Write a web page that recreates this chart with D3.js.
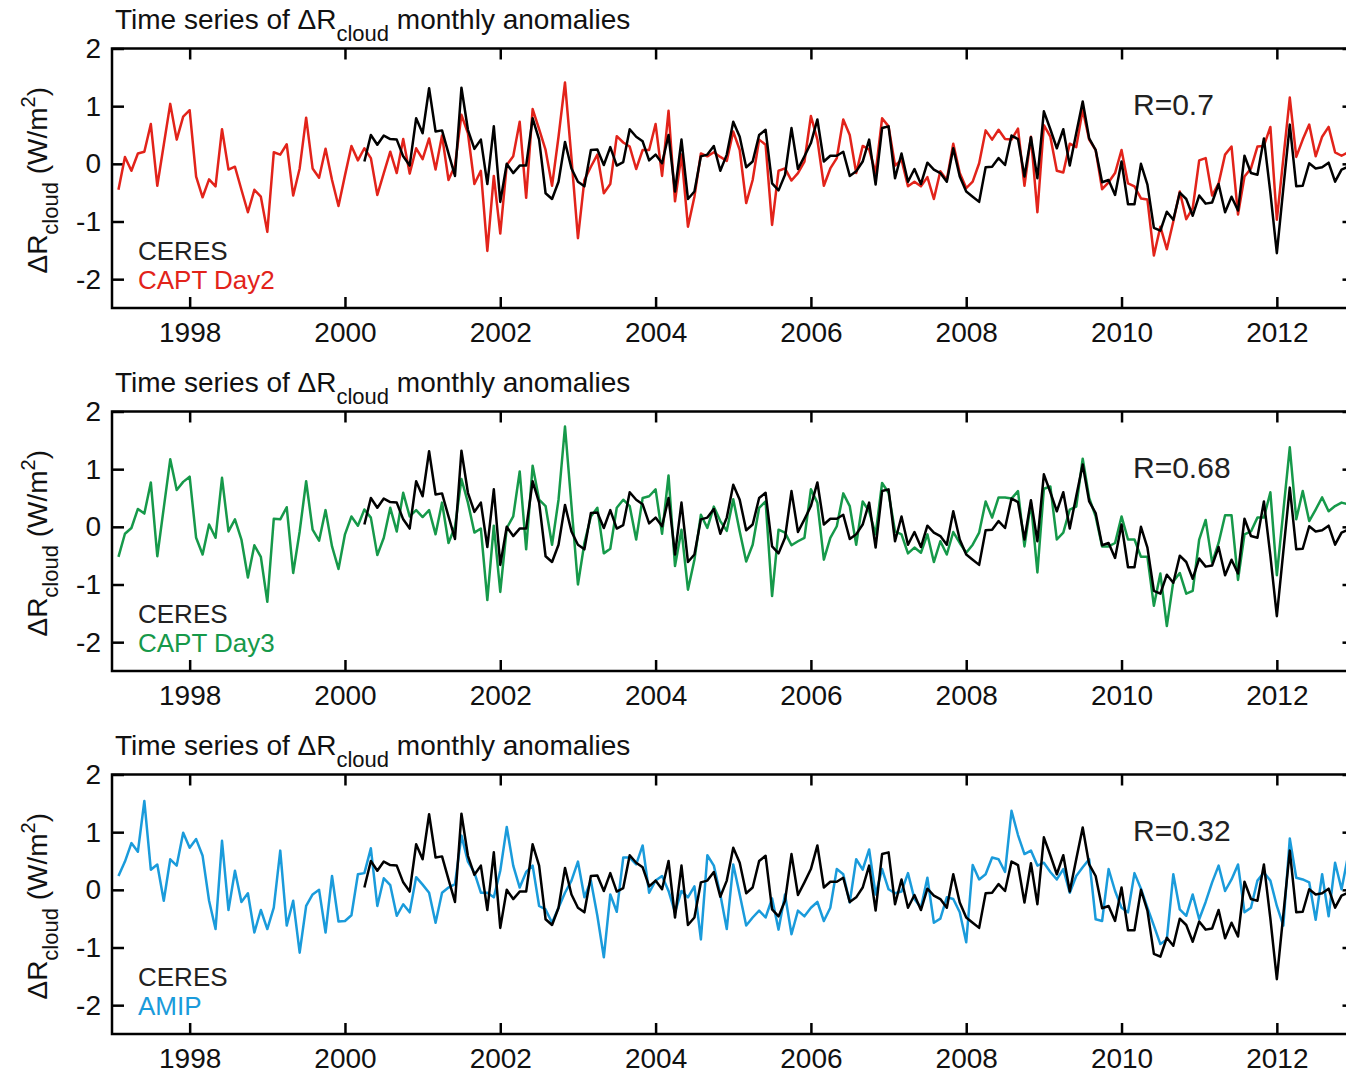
<!DOCTYPE html>
<html>
<head>
<meta charset="utf-8">
<script src="https://cdn.jsdelivr.net/npm/d3@7"></script>
<style>
  body { margin: 0; background: #fff; }
  svg { display: block; }
  text { font-family: "Liberation Sans", Arial, Helvetica, sans-serif; }
</style>
</head>
<body>
<svg id="chart" width="1346" height="1073"></svg>
<script>
// Monthly cloud radiative anomalies (W/m2); the first value sits at 1997 + 1/12
const seriesStart = 1997 + 1 / 12;
const ceresFirstIndex = 38; // CERES record begins in spring 2000

const ceres = [
  0.04, 0.5, 0.33, 0.49, 0.43, 0.42, 0.13, -0.03, 0.79, 0.53,
  1.31, 0.56, 0.58, 0.18, -0.21, 1.32, 0.59, 0.26, 0.42, -0.35, 0.65, -0.66,
  0, -0.16, -0.03, -0.03, 0.79, 0.42, -0.51, -0.61, -0.31, 0.38, -0.08, -0.31,
  -0.39, 0.24, 0.25, -0.02, 0.29, -0.03, 0.03, 0.6, 0.47, 0.39, 0.06, 0.16,
  0.01, 0.5, -0.48, 0.42, -0.61, -0.48, 0.13, 0.16, 0.31, -0.12, 0.16, 0.73,
  0.47, -0.06, 0.04, 0.5, 0.59, -0.34, -0.46, -0.19, 0.62, -0.09, 0.13, 0.36,
  0.77, 0.04, 0.14, 0.14, 0.21, -0.21, -0.13, 0.04, 0.42, -0.36, 0.62, 0.65,
  -0.25, 0.18, -0.31, -0.09, -0.35, 0.02, -0.1, -0.16, -0.31, 0.27, -0.22, -0.48,
  -0.57, -0.66, -0.06, -0.05, 0.1, -0.02, 0.49, 0.43, -0.22, 0.46, -0.25, 0.91,
  0.6, 0.27, 0.6, -0.03, 0.53, 1.08, 0.44, 0.24, -0.32, -0.28, -0.54, 0.04,
  -0.7, -0.7, 0, -0.36, -1.11, -1.16, -0.83, -0.97, -0.5, -0.61, -0.9, -0.55,
  -0.69, -0.67, -0.35, -0.84, -0.57, -0.81, 0.14, -0.16, -0.19, 0.44, -0.5, -1.55,
  -0.43, 0.68, -0.39, -0.38, 0.01, -0.08, -0.06, 0.02, -0.31, -0.1, -0.05, -0.15
];

const captDay2 = [
  -0.45, 0.12, -0.12, 0.18, 0.21, 0.69, -0.38, 0.33, 1.04, 0.42, 0.82, 0.93,
  -0.22, -0.58, -0.27, -0.39, 0.6, -0.1, -0.05, -0.45, -0.84, -0.45, -0.57, -1.18,
  0.2, 0.16, 0.34, -0.55, -0.08, 0.8, -0.08, -0.24, 0.26, -0.28, -0.73, -0.2,
  0.31, 0.06, 0.27, 0.1, -0.54, -0.16, 0.21, -0.16, 0.43, -0.17, 0.27, 0.08,
  0.44, -0.1, 0.49, -0.28, -0.03, 0.85, 0.53, -0.35, -0.12, -1.51, -0.21, -1.21,
  -0.02, 0.13, 0.73, -0.59, 0.95, 0.6, 0.24, -0.38, 0.47, 1.41, 0.1, -1.29,
  -0.28, -0.05, 0.16, -0.51, -0.35, 0.48, 0.37, 0.3, -0.09, 0.24, 0.24, 0.69,
  -0.21, 0.92, -0.65, 0.16, -1.09, -0.57, 0.18, 0.13, 0.2, 0.12, 0.05, 0.56,
  0.24, -0.68, -0.28, 0.42, 0.33, -1.06, -0.12, -0.08, -0.29, -0.16, 0.04, 0.83,
  0.42, -0.38, -0.08, 0.1, 0.77, 0.5, -0.16, 0.31, 0.25, -0.16, 0.79, 0.65,
  -0.03, 0.07, -0.39, -0.31, -0.39, -0.23, -0.61, -0.13, -0.28, 0.35, -0.16, -0.42,
  -0.31, 0.01, 0.58, 0.42, 0.59, 0.43, 0.42, 0.61, -0.38, 0.47, -0.84, 0.67,
  0.47, -0.12, -0.15, 0.35, 0.29, 0.94, 0.42, 0.24, -0.44, -0.32, -0.16, 0.24,
  -0.34, -0.39, -0.6, -0.62, -1.59, -1.09, -1.48, -1.0, -0.48, -0.96, -0.77, 0.06,
  0.1, -0.55, -0.34, 0.16, 0.3, -0.88, -0.22, -0.08, 0.3, 0.31, 0.64, -0.97,
  0.09, 1.15, 0.12, 0.42, 0.68, 0.13, 0.47, 0.64, 0.2, 0.14, 0.2, 0.25
];

const captDay3 = [
  -0.52, -0.12, -0.02, 0.31, 0.23, 0.77, -0.51, 0.33, 1.17, 0.64, 0.78, 0.87,
  -0.19, -0.48, 0.04, -0.19, 0.85, -0.08, 0.13, -0.22, -0.88, -0.32, -0.52, -1.3,
  0.14, 0.13, 0.34, -0.8, -0.08, 0.79, -0.05, -0.24, 0.29, -0.34, -0.73, -0.13,
  0.18, 0.02, 0.3, 0.16, -0.49, -0.19, 0.33, -0.08, 0.59, 0.18, 0.29, 0.17,
  0.29, -0.13, 0.42, -0.28, 0.0, 0.83, 0.42, -0.1, -0.03, -1.27, 0.02, -1.13,
  -0.02, 0.18, 0.96, -0.39, 1.06, 0.47, 0.36, -0.31, 0.47, 1.74, 0.37, -1.0,
  -0.28, 0.18, 0.33, -0.46, -0.38, 0.33, 0.47, 0.36, -0.22, 0.5, 0.53, 0.65,
  -0.12, 0.89, -0.68, -0.05, -1.09, -0.57, 0.21, -0.02, 0.35, 0.1, -0.07, 0.48,
  -0.08, -0.6, -0.31, 0.33, 0.44, -1.2, -0.05, -0.1, -0.32, -0.25, -0.19, 0.65,
  0.42, -0.57, -0.19, 0.01, 0.58, 0.36, -0.31, 0.44, 0.27, -0.13, 0.76, 0.59,
  -0.08, -0.13, -0.46, -0.36, -0.45, -0.13, -0.61, -0.25, -0.48, -0.09, -0.28, -0.45,
  -0.31, -0.1, 0.44, 0.16, 0.51, 0.51, 0.49, 0.62, -0.34, 0.42, -0.79, 0.66,
  0.7, -0.22, -0.1, 0.3, 0.35, 1.18, 0.5, 0.18, -0.34, -0.34, -0.28, 0.18,
  -0.22, -0.22, -0.52, -0.52, -1.37, -0.81, -1.72, -0.95, -0.8, -1.16, -1.11, -0.22,
  0.12, -0.62, -0.28, 0.2, 0.2, -0.92, -0.13, -0.08, 0.16, 0.16, 0.6, -0.84,
  0.27, 1.38, 0.13, 0.62, 0.1, 0.3, 0.51, 0.27, 0.36, 0.42, 0.39, 0.45
];

const amip = [
  0.24, 0.49, 0.81, 0.66, 1.54, 0.35, 0.44, -0.19, 0.53, 0.42, 0.99, 0.73,
  0.88, 0.59, -0.19, -0.68, 0.85, -0.35, 0.33, -0.21, -0.06, -0.74, -0.35, -0.68,
  -0.31, 0.68, -0.62, -0.19, -1.09, -0.28, -0.08, 0, -0.74, 0.24, -0.55, -0.54,
  -0.44, 0.27, 0.29, 0.72, -0.28, 0.2, 0.08, -0.45, -0.25, -0.39, 0.22, 0.09,
  -0.05, -0.57, -0.05, 0.04, 0.1, 0.94, 0.49, 0.3, -0.05, -0.05, -0.13, 0.33,
  1.09, 0.42, 0.04, 0.31, 0.42, -0.28, -0.34, -0.57, -0.31, -0.05, 0.16, 0.49,
  -0.13, 0.16, -0.45, -1.17, -0.08, -0.38, 0.56, 0.56, 0.44, 0.77, -0.05, 0.16,
  0.24, -0.02, -0.39, -0.02, -0.13, 0.06, -0.86, 0.6, 0.42, -0.08, -0.68, 0.44,
  -0.08, -0.62, -0.48, -0.36, -0.48, -0.15, -0.69, -0.08, -0.77, -0.36, -0.46, -0.31,
  -0.21, -0.54, -0.31, 0.36, 0.27, -0.22, 0.53, 0.35, 0.7, -0.08, 0.36, 0.01,
  -0.06, -0.03, 0.29, -0.16, -0.31, 0.21, -0.57, -0.5, -0.13, -0.16, -0.39, -0.91,
  0.43, 0.18, 0.27, 0.56, 0.53, 0.31, 1.37, 0.95, 0.62, 0.68, 0.42, 0.47,
  0.31, 0.18, 0.36, -0.05, 0.24, 0.39, 0.53, -0.51, -0.54, 0.36, -0.02, -0.31,
  -0.39, 0.29, 0.02, -0.31, -0.62, -0.94, -0.86, 0.27, -0.34, -0.45, -0.08, -0.51,
  -0.21, 0.13, 0.42, -0.02, 0.18, 0.44, -0.39, -0.31, 0.16, 0.3, 0.16, -0.28,
  -0.62, 0.89, 0.21, 0.18, 0.13, -0.52, 0.27, -0.46, 0.47, 0.01, 0.59, 0.8
];

const modelSeries = [captDay2, captDay3, amip];
const modelNames = ["CAPT Day2", "CAPT Day3", "AMIP"];
const modelColors = ["#e2231a", "#16994a", "#1a9bdb"];
const correlations = ["R=0.7", "R=0.68", "R=0.32"];
const xTicks = [1998, 2000, 2002, 2004, 2006, 2008, 2010, 2012];
const yTicks = [2, 1, 0, -1, -2];

const svg = d3.select("#chart");
const fontSize = 28;
const subSize = 22;
const panelStep = 363;
const plot = { left: 112, right: 1354.5, top: 48.5, bottom: 308 };

const x = d3.scaleLinear().domain([1997, 2013]).range([plot.left, plot.right]);
const y = d3.scaleLinear().domain([-2.5, 2]).range([plot.bottom, plot.top]);

const toPoints = (arr, offset) => arr.map((v, i) => ({ t: seriesStart + (offset + i) / 12, v }));
const line = d3.line().x(d => x(d.t)).y(d => y(d.v));

modelSeries.forEach((series, k) => {
  const g = svg.append("g").attr("transform", `translate(0,${k * panelStep})`);

  // panel title with subscript
  const title = g.append("text")
    .attr("x", 115).attr("y", 29)
    .attr("font-size", fontSize).attr("fill", "#111");
  title.append("tspan").text("Time series of \u0394R");
  title.append("tspan").attr("dy", 12).attr("font-size", subSize).text("cloud");
  title.append("tspan").attr("dy", -12).text(" monthly anomalies");

  // axes with inward ticks on all four sides
  const axB = g.append("g").attr("transform", `translate(0,${plot.bottom})`)
    .call(d3.axisBottom(x).tickValues(xTicks).tickFormat(d => String(d))
      .tickSize(-11).tickPadding(14));
  const axT = g.append("g").attr("transform", `translate(0,${plot.top})`)
    .call(d3.axisTop(x).tickValues(xTicks).tickFormat("").tickSize(-11));
  const axL = g.append("g").attr("transform", `translate(${plot.left},0)`)
    .call(d3.axisLeft(y).tickValues(yTicks).tickFormat(d => String(d))
      .tickSize(-12).tickPadding(11));
  const axR = g.append("g").attr("transform", `translate(${plot.right},0)`)
    .call(d3.axisRight(y).tickValues(yTicks).tickFormat("").tickSize(-12));

  [axB, axT, axL, axR].forEach(a => {
    a.select(".domain").remove();
    a.selectAll(".tick line").attr("stroke", "#000").attr("stroke-width", 2.5);
    a.selectAll(".tick text").attr("font-size", fontSize)
      .attr("font-family", "Liberation Sans, Arial, sans-serif").attr("fill", "#111");
  });

  // data lines: model first, CERES on top
  g.append("path").datum(toPoints(series, 0))
    .attr("d", line).attr("fill", "none")
    .attr("stroke", modelColors[k]).attr("stroke-width", 2.5)
    .attr("stroke-linejoin", "round");
  g.append("path").datum(toPoints(ceres, ceresFirstIndex))
    .attr("d", line).attr("fill", "none")
    .attr("stroke", "#000").attr("stroke-width", 2.5)
    .attr("stroke-linejoin", "round");

  // frame
  g.append("rect")
    .attr("x", plot.left).attr("y", plot.top)
    .attr("width", plot.right - plot.left).attr("height", plot.bottom - plot.top)
    .attr("fill", "none").attr("stroke", "#000").attr("stroke-width", 2.5);

  // y-axis title
  const yl = g.append("text")
    .attr("transform", `translate(47,${(plot.top + plot.bottom) / 2 + 2}) rotate(-90)`)
    .attr("text-anchor", "middle").attr("font-size", fontSize).attr("fill", "#111");
  yl.append("tspan").text("\u0394R");
  yl.append("tspan").attr("dy", 11).attr("font-size", subSize).text("cloud");
  yl.append("tspan").attr("dy", -11).text(" (W/m");
  yl.append("tspan").attr("dy", -12).attr("font-size", 20).text("2");
  yl.append("tspan").attr("dy", 12).text(")");

  // legend
  g.append("text").attr("x", 138).attr("y", 259.5)
    .attr("font-size", 26).attr("fill", "#222").text("CERES");
  g.append("text").attr("x", 138).attr("y", 289)
    .attr("font-size", 26).attr("fill", modelColors[k]).text(modelNames[k]);

  // correlation
  g.append("text").attr("x", 1133).attr("y", 115)
    .attr("font-size", 30).attr("fill", "#222").text(correlations[k]);
});
</script>
</body>
</html>
